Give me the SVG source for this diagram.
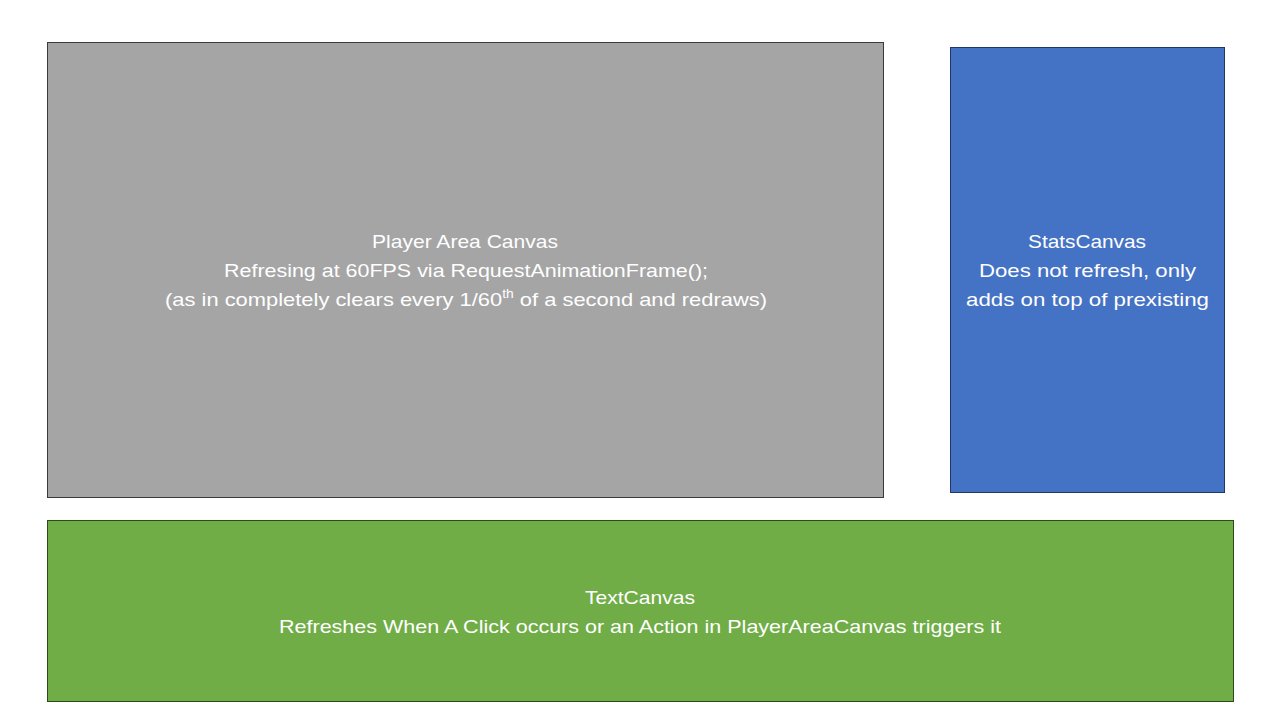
<svg xmlns="http://www.w3.org/2000/svg" width="1280" height="720" viewBox="0 0 1280 720">
<style>
.t{font-family:"Liberation Sans","Open Sans",sans-serif;font-size:19px;fill:#fff;text-anchor:middle}
</style>
<rect width="1280" height="720" fill="#fff"/>
<g id="player">
<rect x="47.5" y="42.5" width="836" height="455" fill="#A5A5A5" stroke="#3A3A3A" stroke-width="1"/>
<text class="t" x="465" y="248" textLength="186" lengthAdjust="spacingAndGlyphs">Player Area Canvas</text>
<text class="t" x="466" y="277" textLength="484" lengthAdjust="spacingAndGlyphs">Refresing at 60FPS via RequestAnimationFrame();</text>
<text class="t" x="466" y="306" textLength="602" lengthAdjust="spacingAndGlyphs">(as in completely clears every 1/60<tspan font-size="12" dy="-8">th</tspan><tspan dy="8"> of a second and redraws)</tspan></text>
</g>
<g id="stats">
<rect x="950.5" y="47.5" width="274" height="445" fill="#4472C4" stroke="#1F3864" stroke-width="1"/>
<text class="t" x="1087" y="248" textLength="118" lengthAdjust="spacingAndGlyphs">StatsCanvas</text>
<text class="t" x="1087.5" y="277" textLength="217" lengthAdjust="spacingAndGlyphs">Does not refresh, only</text>
<text class="t" x="1087.5" y="306" textLength="243" lengthAdjust="spacingAndGlyphs">adds on top of prexisting</text>
</g>
<g id="text">
<rect x="47.5" y="520.5" width="1186" height="181" fill="#70AD47" stroke="#2D4A1A" stroke-width="1"/>
<text class="t" x="640" y="604" textLength="110" lengthAdjust="spacingAndGlyphs">TextCanvas</text>
<text class="t" x="640" y="633" textLength="722" lengthAdjust="spacingAndGlyphs">Refreshes When A Click occurs or an Action in PlayerAreaCanvas triggers it</text>
</g>
<g id="connectors"></g>
</svg>
